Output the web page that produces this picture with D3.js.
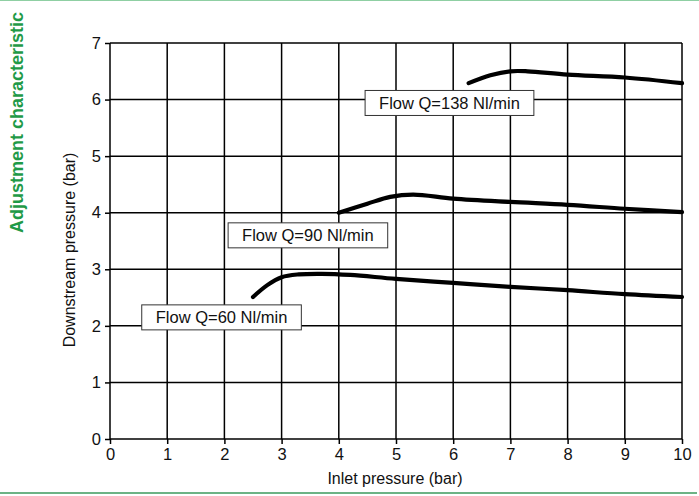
<!DOCTYPE html>
<html>
<head>
<meta charset="utf-8">
<script src="https://cdn.jsdelivr.net/npm/d3@7"></script>
<style>
  body { margin: 0; background: #fff; }
  svg { display: block; font-family: "Liberation Sans", Arial, Helvetica, sans-serif; }
</style>
</head>
<body>
<svg id="chart"></svg>
<script>
// inlet pressure vs downstream pressure, one series per flow
const xTicks = [0, 1, 2, 3, 4, 5, 6, 7, 8, 9, 10];
const yTicks = [0, 1, 2, 3, 4, 5, 6, 7];

const flow60 = [[2.5, 2.51], [2.75, 2.72], [3, 2.86], [3.3, 2.91], [3.7, 2.92], [4.2, 2.9], [5, 2.83], [6, 2.76], [7, 2.69], [8, 2.63], [9, 2.56], [10, 2.51]];
const flow90 = [[4, 4.0], [4.5, 4.16], [4.9, 4.28], [5.3, 4.32], [6, 4.25], [7, 4.19], [8, 4.14], [9, 4.07], [10, 4.01]];
const flow138 = [[6.27, 6.29], [6.65, 6.43], [7, 6.5], [7.3, 6.5], [8, 6.44], [9, 6.39], [10, 6.29]];

const series = [flow60, flow90, flow138];
const labels = [
  { text: "Flow Q=60 Nl/min", x: 1.95, y: 2.15 },
  { text: "Flow Q=90 Nl/min", x: 3.46, y: 3.6 },
  { text: "Flow Q=138 Nl/min", x: 5.935, y: 5.94 }
];

const W = 699, H = 496;
const margin = { top: 43, right: 17, bottom: 57, left: 110 };
const width = W - margin.left - margin.right;
const height = H - margin.top - margin.bottom;

const svg = d3.select("#chart").attr("width", W).attr("height", H);

// green frame lines and side title
svg.append("line").attr("x1", 0).attr("x2", W).attr("y1", 0.5).attr("y2", 0.5)
  .attr("stroke", "#8fcfa3").attr("stroke-width", 1);
svg.append("line").attr("x1", 0).attr("x2", 697).attr("y1", 493).attr("y2", 493)
  .attr("stroke", "#3b9a5d").attr("stroke-width", 1.5);
svg.append("text")
  .attr("transform", "translate(23,122.5) rotate(-90)")
  .attr("text-anchor", "middle")
  .attr("fill", "#1f9a47")
  .attr("font-weight", "bold")
  .attr("font-size", 18)
  .text("Adjustment characteristic");

const g = svg.append("g").attr("transform", `translate(${margin.left},${margin.top})`);

const x = d3.scaleLinear().domain([0, 10]).range([0, width]);
const y = d3.scaleLinear().domain([0, 7]).range([height, 0]);

// grid
g.append("g").selectAll("line").data(xTicks).join("line")
  .attr("x1", d => x(d)).attr("x2", d => x(d)).attr("y1", 0).attr("y2", height)
  .attr("stroke", "#000").attr("stroke-width", 1.5);
g.append("g").selectAll("line").data(yTicks).join("line")
  .attr("x1", 0).attr("x2", width).attr("y1", d => y(d)).attr("y2", d => y(d))
  .attr("stroke", "#000").attr("stroke-width", 1.5);

// axes
const xAxis = g.append("g").attr("transform", `translate(0,${height})`)
  .call(d3.axisBottom(x).tickValues(xTicks).tickFormat(d3.format("d")).tickSize(5).tickPadding(4));
const yAxis = g.append("g")
  .call(d3.axisLeft(y).tickValues(yTicks).tickFormat(d3.format("d")).tickSize(5).tickPadding(4));
[xAxis, yAxis].forEach(a => {
  a.attr("font-family", null).attr("font-size", null);
  a.select(".domain").remove();
  a.selectAll(".tick line").attr("stroke", "#000").attr("stroke-width", 1.5);
  a.selectAll(".tick text").attr("font-size", 16.5).attr("fill", "#111");
});

svg.append("text")
  .attr("x", 395).attr("y", 484)
  .attr("text-anchor", "middle").attr("font-size", 16).attr("fill", "#111")
  .text("Inlet pressure (bar)");
svg.append("text")
  .attr("transform", "translate(75,250) rotate(-90)")
  .attr("text-anchor", "middle").attr("font-size", 16).attr("fill", "#111")
  .text("Downstream pressure (bar)");

// curves
const line = d3.line().x(d => x(d[0])).y(d => y(d[1])).curve(d3.curveCatmullRom.alpha(0.5));
g.append("g").selectAll("path").data(series).join("path")
  .attr("d", line)
  .attr("fill", "none").attr("stroke", "#000").attr("stroke-width", 4.2)
  .attr("stroke-linecap", "round").attr("stroke-linejoin", "round");

// label boxes
const lab = g.append("g").selectAll("g").data(labels).join("g")
  .attr("transform", d => `translate(${x(d.x)},${y(d.y)})`);
lab.append("text")
  .attr("text-anchor", "middle").attr("dy", "0.35em")
  .attr("font-size", 16.5).attr("fill", "#111")
  .text(d => d.text);
lab.each(function () {
  const t = d3.select(this).select("text");
  const b = t.node().getBBox();
  d3.select(this).insert("rect", "text")
    .attr("x", b.x - 14).attr("y", -12.5)
    .attr("width", b.width + 28).attr("height", 25)
    .attr("fill", "#fff").attr("stroke", "#333").attr("stroke-width", 1);
});
</script>
</body>
</html>
